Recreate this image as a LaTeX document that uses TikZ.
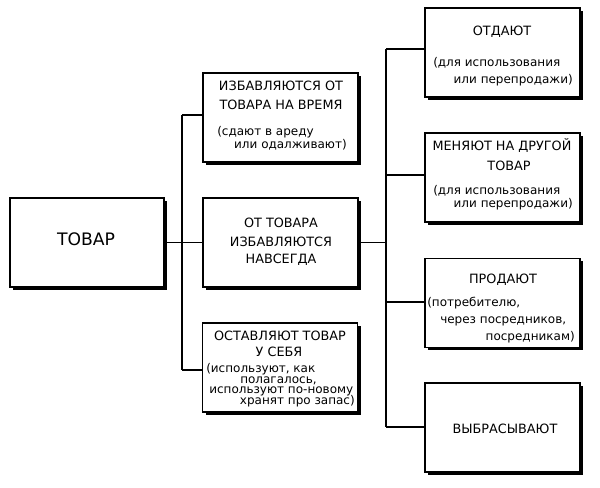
\documentclass[tikz,border=0pt]{standalone}
\usepackage{fontspec}
\setmainfont{DejaVu Sans}
\usetikzlibrary{shadows}
\tikzset{
  box/.style={draw, line width=1.2pt, fill=white, inner sep=0pt,
    minimum width=116.25pt, minimum height=66.75pt,
    general shadow={fill=black, shadow xshift=2.25pt, shadow yshift=-2.25pt}},
  captxt/.style={inner sep=0pt, font=\fontsize{9.6}{11}\selectfont, anchor=mid},
  bigtxt/.style={inner sep=0pt, font=\fontsize{12.9}{15}\selectfont, anchor=mid},
  partxt/.style={inner sep=0pt, font=\fontsize{9}{10}\selectfont},
  conn/.style={line width=0.9pt}
}
\begin{document}
\begin{tikzpicture}[x=0.75pt, y=-0.75pt]
\useasboundingbox (0,0) rectangle (600,488);
% boxes
\node[box, minimum width=115.5pt] (T) at (87,242.5) {};
\node[box] (B1) at (280.5,117.5) {};
\node[box] (B2) at (280.5,242.5) {};
\node[box] (B3) at (280,367.5) {};
\node[box] (R1) at (502.5,52.5) {};
\node[box] (R2) at (502.5,177.5) {};
\node[box] (R3) at (502.5,303) {};
\node[box] (R4) at (502.5,427.5) {};
% connectors
\coordinate (L1) at (182,115);
\coordinate (L3) at (182,370);
\coordinate (M1) at (386,49);
\coordinate (M2) at (386,175);
\coordinate (M3) at (386,302);
\coordinate (M4) at (386,427);
\draw[conn] (T.east) -- (B2.west);
\draw[conn] (L1) -- (L3);
\draw[conn] (L1) -- (L1 -| B1.west);
\draw[conn] (L3) -- (L3 -| B3.west);
\draw[conn] (B2.east) -- (B2.east -| M1);
\draw[conn] (M1) -- (M4);
\draw[conn] (M1) -- (M1 -| R1.west);
\draw[conn] (M2) -- (M2 -| R2.west);
\draw[conn] (M3) -- (M3 -| R3.west);
\draw[conn] (M4) -- (M4 -| R4.west);
% texts
\node[bigtxt] (tT) at (86,242) {ТОВАР};
\node[captxt] (b1a) at (281,87) {ИЗБАВЛЯЮТСЯ ОТ};
\node[captxt] (b1b) at (281,106) {ТОВАРА НА ВРЕМЯ};
\node[partxt, anchor=mid west] (b1c) at (217,132) {(сдают в ареду};
\node[partxt, anchor=mid east] (b1d) at (347,145) {или одалживают)};
\node[captxt] (b2a) at (281,224) {ОТ ТОВАРА};
\node[captxt] (b2b) at (281,243) {ИЗБАВЛЯЮТСЯ};
\node[captxt] (b2c) at (281,260) {НАВСЕГДА};
\node[captxt] (b3a) at (280,337) {ОСТАВЛЯЮТ ТОВАР};
\node[captxt] (b3b) at (279,353) {У СЕБЯ};
\node[partxt, anchor=mid west] (b3c) at (206,369) {(используют, как};
\node[partxt, anchor=mid west] (b3d) at (240,380) {полагалось,};
\node[partxt, anchor=mid west] (b3e) at (209,390) {используют по-новому};
\node[partxt, anchor=mid east] (b3f) at (355,401) {хранят про запас)};
\node[captxt] (r1a) at (502,32) {ОТДАЮТ};
\node[partxt, anchor=mid west] (r1b) at (433,63) {(для использования};
\node[partxt, anchor=mid east] (r1c) at (573,80) {или перепродажи)};
\node[captxt] (r2a) at (502,147) {МЕНЯЮТ НА ДРУГОЙ};
\node[captxt] (r2b) at (509,167) {ТОВАР};
\node[partxt, anchor=mid west] (r2c) at (433,191) {(для использования};
\node[partxt, anchor=mid east] (r2d) at (573,204) {или перепродажи)};
\node[captxt] (r3a) at (503,280) {ПРОДАЮТ};
\node[partxt, anchor=mid west] (r3b) at (427,303) {(потребителю,};
\node[partxt, anchor=mid west] (r3c) at (440,320) {через посредников,};
\node[partxt, anchor=mid east] (r3d) at (575,337) {посредникам)};
\node[captxt] (r4a) at (505,430) {ВЫБРАСЫВАЮТ};
\end{tikzpicture}
\end{document}
